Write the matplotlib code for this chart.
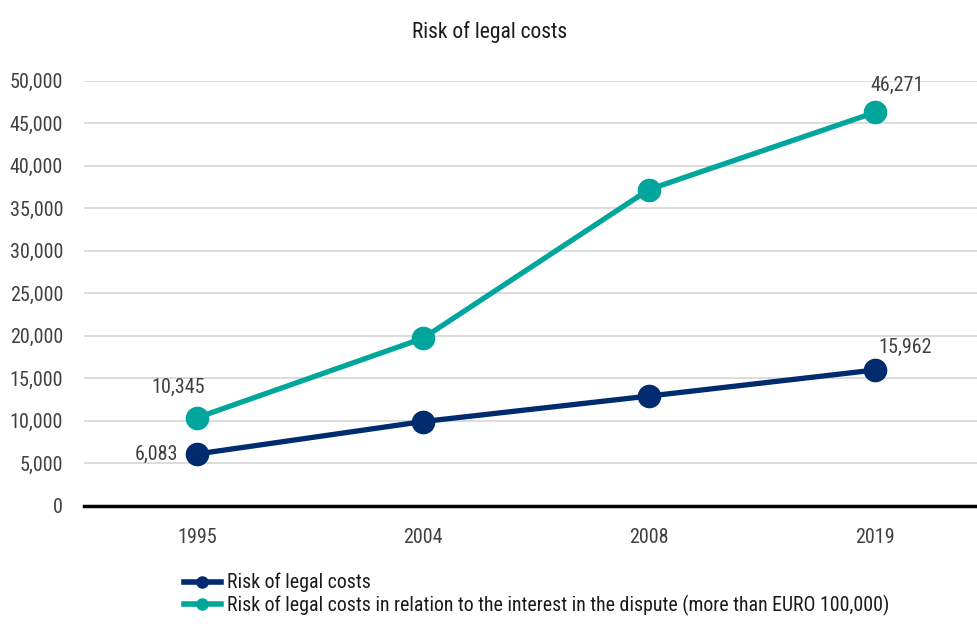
import matplotlib
matplotlib.use('Agg')
import matplotlib.pyplot as plt
from matplotlib.lines import Line2D
from matplotlib import font_manager
import matplotlib.ticker as ticker

# look for a narrow face, the reference uses a condensed sans
fonts = font_manager.fontManager.ttflist
names = {f.name for f in fonts}
cands = ['Liberation Sans Narrow', 'Roboto Condensed', 'Open Sans Condensed', 'DejaVu Sans Condensed']
fam = next((c for c in cands if c in names), None)
stretch = 'normal'
if fam is None:
    cond = [f for f in fonts if f.stretch in ('condensed', 'semi-condensed', 'extra-condensed') or
            (isinstance(f.stretch, int) and f.stretch < 500)]
    if cond:
        fam = cond[0].name
        stretch = cond[0].stretch
    else:
        fam = 'DejaVu Sans'
plt.rcParams['font.family'] = [fam, 'DejaVu Sans']
plt.rcParams['font.stretch'] = stretch

years = ['1995', '2004', '2008', '2019']
risk = [6083, 9900, 12900, 15962]
risk_dispute = [10345, 19700, 37200, 46271]
labels = ['Risk of legal costs',
          'Risk of legal costs in relation to the interest in the dispute (more than EURO 100,000)']
navy = '#002b6e'
teal = '#00a69c'

fig = plt.figure(figsize=(9.78, 6.24), dpi=100)
ax = fig.add_axes([84 / 978, 118.3 / 624, 904 / 978, 425 / 624])
x = range(len(years))
ax.plot(x, risk, color=navy, lw=3.8, marker='o', ms=16, zorder=3, clip_on=False)
ax.plot(x, risk_dispute, color=teal, lw=3.8, marker='o', ms=16, zorder=3, clip_on=False)

ax.set_xlim(-0.5, 3.5)
ax.set_ylim(0, 50000)
ax.yaxis.set_major_locator(ticker.MultipleLocator(5000))
ax.yaxis.set_major_formatter(ticker.FuncFormatter(lambda v, p: f'{int(v):,}'))
ax.set_xticks(list(x))
ax.set_xticklabels(years)
ax.grid(True, axis='y', color='#d9d9d9', lw=1.3)
ax.set_axisbelow(True)
for s in ['top', 'right', 'left']:
    ax.spines[s].set_visible(False)
ax.spines['bottom'].set_linewidth(2.5)
ax.spines['bottom'].set_color('black')
ax.tick_params(length=0, labelsize=14.5, colors='#404040')
ax.tick_params(axis='y', pad=15)
ax.tick_params(axis='x', pad=16)

# data labels
kw = dict(textcoords='offset pixels', fontsize=14.5, color='#404040', va='center')
ax.annotate(f'{risk_dispute[0]:,}', (0, risk_dispute[0]), xytext=(-19, 30), ha='center', **kw)
ax.annotate(f'{risk[0]:,}', (0, risk[0]), xytext=(-19, 0), ha='right', **kw)
ax.annotate(f'{risk_dispute[3]:,}', (3, risk_dispute[3]), xytext=(22, 27), ha='center', **kw)
ax.annotate(f'{risk[3]:,}', (3, risk[3]), xytext=(30, 23), ha='center', **kw)

fig.text(490 / 978, 1 - 32 / 624, 'Risk of legal costs', ha='center', va='center',
         fontsize=15.5, color='#1a1a1a')

handles = [Line2D([], [], color=navy, lw=4, marker='o', ms=8),
           Line2D([], [], color=teal, lw=4, marker='o', ms=8)]
fig.legend(handles, labels, loc='upper left', bbox_to_anchor=(184 / 978, 1 - 573 / 624),
           frameon=False, fontsize=14.3, handlelength=1.86, handletextpad=0.3,
           labelspacing=0.1, borderpad=0, borderaxespad=0, labelcolor='#1a1a1a')

fig.savefig('out.png', dpi=100)
